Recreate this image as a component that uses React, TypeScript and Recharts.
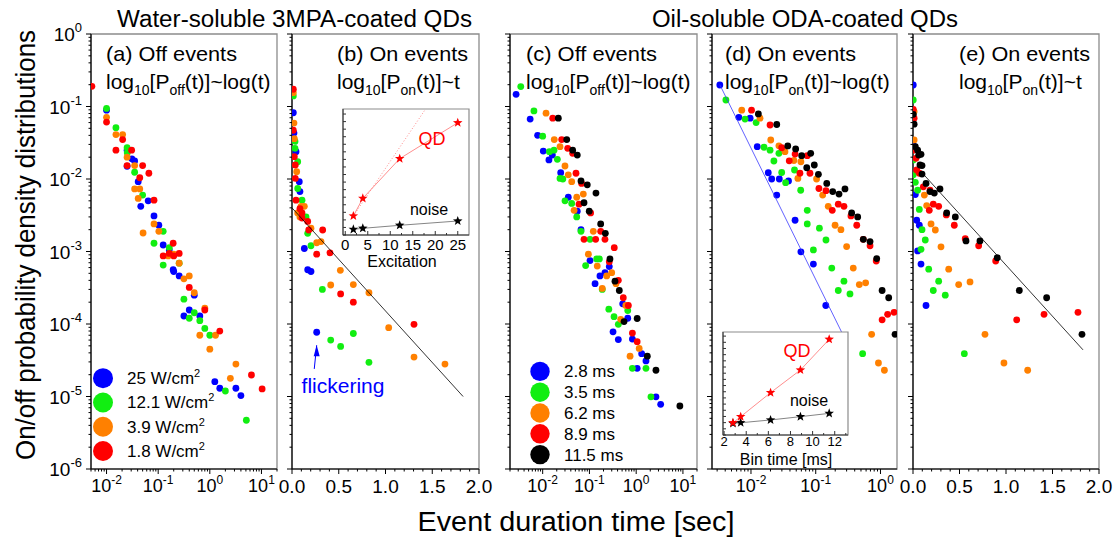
import React from 'react';
import { ScatterChart, Scatter, XAxis, YAxis, ReferenceArea, Legend } from 'recharts';

const W = 1119;
const H = 540;
const TOP = 34;
const BOTTOM = 469;
const AX_H = 30;
const AX_W = 40;
const FONT = '"Liberation Sans", Arial, sans-serif';

type XY = [number, number];

// (a) water-soluble, off events, by excitation power
const aBlue: XY[] = [[0.01, 0.089], [0.025, 0.025], [0.031, 0.019], [0.035, 0.0177], [0.025, 0.015], [0.041, 0.0092], [0.064, 0.005], [0.046, 0.0042], [0.083, 0.0031], [0.103, 0.0023], [0.125, 0.00123], [0.164, 0.00105], [0.195, 0.00056], [0.2, 0.00053], [0.255, 0.00046], [0.5, 0.00025], [0.315, 0.000129], [0.4, 0.000156], [0.64, 0.000129], [1.25, 1.6e-5], [1.56, 1.3e-5], [3.2, 1.3e-5], [4.0, 1.03e-5]];
const aGreen: XY[] = [[0.01, 0.094], [0.0152, 0.051], [0.025, 0.027], [0.0252, 0.023], [0.035, 0.0124], [0.05, 0.006], [0.125, 0.0019], [0.083, 0.0013], [0.164, 0.00113], [0.255, 0.00069], [0.125, 0.00065], [0.315, 0.00022], [0.5, 0.000143], [0.4, 0.00012], [0.64, 0.000111], [0.8, 8.7e-5], [1.0, 7.0e-5], [2.0, 1.19e-5], [5.1, 4.7e-6]];
const aOrange: XY[] = [[0.01, 0.071], [0.0152, 0.041], [0.0205, 0.041], [0.025, 0.02], [0.035, 0.0153], [0.035, 0.0073], [0.044, 0.0073], [0.041, 0.0054], [0.083, 0.0024], [0.051, 0.0018], [0.103, 0.0019], [0.156, 0.00087], [0.2, 0.00092], [0.255, 0.00069], [0.315, 0.00042], [0.4, 0.00046], [0.5, 0.00027], [0.8, 0.000165], [0.64, 7.0e-5], [1.29, 7.0e-5], [1.0, 4.5e-5], [3.2, 2.8e-5], [2.5, 1.78e-5]];
const aRed: XY[] = [[0.0052, 0.19], [0.01, 0.061], [0.0205, 0.035], [0.0152, 0.025], [0.0306, 0.025], [0.025, 0.0153], [0.05, 0.0153], [0.066, 0.012], [0.044, 0.0104], [0.083, 0.0051], [0.195, 0.0013], [0.125, 0.00087], [0.164, 0.00094], [0.2, 0.00087], [0.255, 0.00094], [0.4, 0.00032], [0.8, 0.000156], [1.56, 8.0e-5], [6.4, 1.98e-5], [10.3, 1.27e-5]];

// (b) water-soluble, on events
const bBlue: XY[] = [[0.014, 0.082], [0.021, 0.043], [0.043, 0.0238], [0.078, 0.0092], [0.085, 0.0067], [0.132, 0.0011], [0.168, 0.00056], [0.203, 0.00053], [0.264, 7.7e-5]];
const bGreen: XY[] = [[0.014, 0.14], [0.032, 0.033], [0.032, 0.0265], [0.061, 0.0173], [0.061, 0.0074], [0.107, 0.0051], [0.15, 0.003], [0.168, 0.00178], [0.203, 0.0012], [0.325, 0.0003], [0.414, 6.0e-5], [0.52, 4.9e-5], [0.656, 7.4e-5], [0.823, 2.96e-5]];
const bOrange: XY[] = [[0.014, 0.155], [0.021, 0.059], [0.025, 0.036], [0.05, 0.0126], [0.096, 0.0042], [0.132, 0.0042], [0.061, 0.0034], [0.085, 0.003], [0.203, 0.0021], [0.264, 0.00132], [0.31, 0.00137], [0.517, 0.00055], [0.414, 0.000345], [0.656, 0.00035], [0.823, 0.00027], [1.034, 8.9e-5], [1.305, 3.5e-5], [1.636, 2.8e-5]];
const bRed: XY[] = [[0.014, 0.173], [0.014, 0.047], [0.025, 0.0203], [0.035, 0.0156], [0.035, 0.0102], [0.043, 0.0051], [0.085, 0.0039], [0.107, 0.0034], [0.107, 0.0029], [0.168, 0.0026], [0.179, 0.00198], [0.328, 0.00198], [0.264, 0.00092], [0.406, 0.00096], [0.52, 0.00026], [0.656, 0.0002], [1.305, 9.9e-5]];
const bFit: XY[] = [[0, 0.004], [1.83, 1e-5]];
const flickerArrow: XY[] = [[0.238, 2.4e-5], [0.264, 5.1e-5]];

// (c) oil-soluble, off events, by bin time
const cBlue: XY[] = [[0.0027, 0.147], [0.0054, 0.067], [0.0078, 0.04], [0.0103, 0.0243], [0.0161, 0.0214], [0.0136, 0.0183], [0.0243, 0.0122], [0.0353, 0.0056], [0.055, 0.0036], [0.066, 0.002], [0.103, 0.00075], [0.266, 0.00062], [0.215, 0.00051], [0.168, 0.00046], [0.132, 0.00036], [0.515, 0.00019], [0.66, 0.00012], [0.32, 7.8e-5], [0.415, 6.1e-5], [0.83, 6.2e-5], [1.31, 3.9e-5], [1.62, 3.1e-5], [1.05, 2.45e-5], [2.65, 9.9e-6], [3.34, 7.8e-6]];
const cGreen: XY[] = [[0.0034, 0.188], [0.0065, 0.087], [0.01, 0.039], [0.0139, 0.0238], [0.0175, 0.025], [0.0206, 0.0187], [0.0235, 0.0102], [0.027, 0.01], [0.03, 0.005], [0.0418, 0.0046], [0.0535, 0.003], [0.066, 0.0019], [0.103, 0.00147], [0.143, 0.00079], [0.163, 0.00079], [0.083, 0.00064], [0.188, 0.0003], [0.26, 0.00016], [0.66, 0.000153], [0.336, 0.000126], [0.415, 9.9e-5], [0.83, 2.45e-5], [1.62, 2.45e-5], [2.07, 9.9e-6]];
const cOrange: XY[] = [[0.0118, 0.081], [0.0177, 0.035], [0.0235, 0.0279], [0.03, 0.0151], [0.0353, 0.0114], [0.0418, 0.0092], [0.074, 0.0062], [0.0535, 0.0056], [0.047, 0.0037], [0.121, 0.0019], [0.095, 0.00092], [0.147, 0.00063], [0.234, 0.00046], [0.3, 0.00051], [0.37, 0.00036], [0.188, 0.00031], [0.6, 0.00018], [0.467, 0.000116], [1.16, 4.6e-5], [0.74, 3.6e-5]];
const cRed: XY[] = [[0.0164, 0.069], [0.0255, 0.035], [0.0343, 0.0265], [0.0438, 0.0226], [0.0516, 0.012], [0.068, 0.0087], [0.06, 0.0045], [0.106, 0.0034], [0.174, 0.0019], [0.0766, 0.00147], [0.136, 0.00147], [0.215, 0.00147], [0.34, 0.00113], [0.266, 0.00072], [0.415, 0.0004], [0.53, 0.00023], [0.68, 0.00018], [0.83, 7.5e-5], [1.05, 5.7e-5]];
const cBlack: XY[] = [[0.0216, 0.069], [0.0327, 0.035], [0.0438, 0.025], [0.055, 0.0214], [0.066, 0.0094], [0.09, 0.0083], [0.138, 0.0064], [0.0766, 0.0047], [0.099, 0.0036], [0.174, 0.0024], [0.219, 0.00178], [0.275, 0.00079], [0.352, 0.00039], [0.436, 0.00029], [0.55, 0.000108], [1.05, 0.000119], [1.73, 3.6e-5], [2.65, 2.3e-5], [8.6, 7.4e-6]];

// (d) oil-soluble, on events, log-log
const dBlue: XY[] = [[0.0033, 0.198], [0.0065, 0.071], [0.0097, 0.069], [0.0125, 0.0279], [0.0185, 0.0122], [0.0209, 0.01], [0.0274, 0.01], [0.025, 0.006], [0.038, 0.0094], [0.048, 0.0027], [0.059, 0.00099], [0.092, 0.00067], [0.143, 0.00018]];
const dGreen: XY[] = [[0.0041, 0.123], [0.0081, 0.067], [0.012, 0.06], [0.0159, 0.0274], [0.0197, 0.025], [0.027, 0.0226], [0.0226, 0.0177], [0.0298, 0.0123], [0.047, 0.0133], [0.0343, 0.0089], [0.0586, 0.007], [0.074, 0.0037], [0.074, 0.0024], [0.114, 0.0021], [0.144, 0.00144], [0.092, 0.00105], [0.177, 0.00059], [0.273, 0.00039], [0.223, 0.00029], [0.338, 0.00026], [0.53, 3.9e-5]];
const dOrange: XY[] = [[0.0072, 0.089], [0.0138, 0.069], [0.0202, 0.0345], [0.027, 0.0287], [0.0335, 0.0238], [0.046, 0.018], [0.059, 0.0173], [0.053, 0.0102], [0.103, 0.01], [0.128, 0.006], [0.156, 0.0042], [0.199, 0.0023], [0.245, 0.002], [0.3, 0.00117], [0.38, 0.00059], [0.471, 0.00035], [0.59, 0.00037], [0.73, 7.2e-5], [0.93, 2.9e-5], [1.15, 2.3e-5]];
const dRed: XY[] = [[0.0102, 0.089], [0.0197, 0.0556], [0.0298, 0.027], [0.048, 0.0221], [0.074, 0.021], [0.039, 0.0178], [0.057, 0.012], [0.0815, 0.012], [0.112, 0.0074], [0.144, 0.0069], [0.223, 0.0045], [0.273, 0.0042], [0.18, 0.0037], [0.35, 0.0031], [0.43, 0.0023], [0.543, 0.00147], [0.69, 0.0012], [0.86, 0.00074], [1.06, 0.000114], [1.29, 0.000136], [1.62, 0.000145]];
const dBlack: XY[] = [[0.013, 0.079], [0.025, 0.0565], [0.037, 0.0286], [0.049, 0.026], [0.0607, 0.021], [0.0836, 0.0226], [0.0727, 0.0143], [0.095, 0.0156], [0.11, 0.0116], [0.148, 0.0087], [0.183, 0.0067], [0.229, 0.0062], [0.283, 0.0073], [0.359, 0.0034], [0.445, 0.003], [0.543, 0.00147], [0.69, 0.00137], [0.875, 0.0008], [1.06, 0.00029], [1.34, 0.00023], [1.68, 7.2e-5]];
const dFit: XY[] = [[0.0033, 0.2], [0.3, 5.6e-5]];

// (e) oil-soluble, on events, log-linear
const eBlue: XY[] = [[0.003, 0.198], [0.003, 0.0294], [0.025, 0.0061], [0.04, 0.0027], [0.068, 0.0023], [0.05, 0.00102], [0.086, 0.00067], [0.14, 0.00018]];
const eGreen: XY[] = [[0.003, 0.123], [0.003, 0.0183], [0.003, 0.0114], [0.025, 0.009], [0.05, 0.007], [0.068, 0.0038], [0.097, 0.002], [0.132, 0.00144], [0.086, 0.00107], [0.169, 0.00057], [0.276, 0.00039], [0.218, 0.00029], [0.347, 0.00025], [0.552, 3.9e-5]];
const eOrange: XY[] = [[0.012, 0.085], [0.012, 0.0345], [0.122, 0.006], [0.147, 0.0043], [0.194, 0.0024], [0.24, 0.00198], [0.301, 0.00116], [0.384, 0.00057], [0.491, 0.00035], [0.613, 0.00038], [0.774, 7.2e-5], [0.978, 2.9e-5], [1.233, 2.3e-5]];
const eRed: XY[] = [[0.003, 0.091], [0.012, 0.069], [0.003, 0.025], [0.032, 0.0193], [0.04, 0.0133], [0.068, 0.012], [0.111, 0.0078], [0.183, 0.007], [0.218, 0.0045], [0.276, 0.0042], [0.175, 0.0037], [0.358, 0.0032], [0.444, 0.0023], [0.562, 0.0015], [0.706, 0.0012], [0.889, 0.00074], [1.115, 0.000114], [1.409, 0.000136], [1.774, 0.000145]];
const eBlack: XY[] = [[0.003, 0.078], [0.012, 0.057], [0.025, 0.0279], [0.05, 0.025], [0.061, 0.0214], [0.086, 0.0219], [0.075, 0.0156], [0.097, 0.0153], [0.097, 0.0117], [0.14, 0.0087], [0.183, 0.0067], [0.229, 0.0064], [0.29, 0.0073], [0.362, 0.0034], [0.455, 0.003], [0.57, 0.0014], [0.72, 0.0014], [0.906, 0.00082], [1.143, 0.00029], [1.437, 0.00023], [1.817, 7.2e-5]];
const eFit: XY[] = [[0.1, 0.0121], [1.828, 4.4e-5]];

// insets
const excitation = [1.8, 3.9, 12.1, 25];
const excQD = [1.51, 2.91, 6.06, 8.91];
const excNoise = [0.45, 0.53, 0.77, 1.11];
const excTrend: XY[] = [[1.8, 1.51], [17.7, 9.92]];
const binTimes = [2.8, 3.5, 6.2, 8.9, 11.5];
const binQD = [1.19, 1.78, 4.11, 6.31, 9.29];
const binNoise = [1.13, 1.19, 1.46, 1.78, 2.1];

const powerNames = ['25 W/cm^2', '12.1 W/cm^2', '3.9 W/cm^2', '1.8 W/cm^2'];
const binNames = ['2.8 ms', '3.5 ms', '6.2 ms', '8.9 ms', '11.5 ms'];
const colors = ['#0000ff', '#11ee11', '#ff8000', '#ff0000', '#000000'];

const panelTags = ['(a) Off events', '(b) On events', '(c) Off events', '(d) On events', '(e) On events'];
const panelSubs = ['off', 'on', 'off', 'on', 'on'];
const panelRhs = ['log(t)', 't', 'log(t)', 'log(t)', 't'];
const linMajor = [0, 0.5, 1, 1.5, 2];

const toPts = (a: XY[]) => a.map(([t, p]) => ({ t, p }));
const toXY = (xs: number[], ys: number[]) => xs.map((x, i) => ({ x, y: ys[i] }));

function logTicks(min: number, max: number) {
  const out: number[] = [];
  for (let k = Math.floor(Math.log10(min)); k <= Math.ceil(Math.log10(max)); k++) {
    for (let m = 1; m <= 9; m++) {
      const v = m * Math.pow(10, k);
      if (v >= min * 0.999999 && v <= max * 1.000001) out.push(v);
    }
  }
  return out;
}
const isDecade = (v: number) => {
  const e = Math.log10(v);
  return Math.abs(e - Math.round(e)) < 1e-6;
};
const yTicks = logTicks(1e-6, 1);
const linTicks = Array.from({ length: 21 }, (_, i) => i / 10);

function XTick(props: any) {
  const { x, y, payload, log } = props;
  const v = payload.value as number;
  const major = log ? isDecade(v) : linMajor.some((m) => Math.abs(m - v) < 1e-6);
  let label: React.ReactNode = null;
  if (major && log) {
    label = (
      <text x={x} y={y + 23} textAnchor="middle" fontSize={18} fill="#000" fontFamily={FONT}>
        <tspan>10</tspan>
        <tspan dy={-8} fontSize={12}>{Math.round(Math.log10(v))}</tspan>
      </text>
    );
  } else if (major) {
    label = (
      <text x={x} y={y + 24} textAnchor="middle" fontSize={19} fill="#000" fontFamily={FONT}>
        {v.toFixed(1)}
      </text>
    );
  }
  return (
    <g>
      <line x1={x} x2={x} y1={y} y2={y + (major ? 5 : 2.5)} stroke="#000" />
      {label}
    </g>
  );
}

function YTick(props: any) {
  const { x, y, payload, labels } = props;
  const v = payload.value as number;
  const major = isDecade(v);
  return (
    <g>
      <line x1={x} x2={x - (major ? 5 : 2.5)} y1={y} y2={y} stroke="#000" />
      {major && labels && (
        <text x={x - 9} y={y + 7} textAnchor="end" fontSize={19} fill="#000" fontFamily={FONT}>
          <tspan>10</tspan>
          <tspan dy={-9} fontSize={13}>{Math.round(Math.log10(v))}</tspan>
        </text>
      )}
    </g>
  );
}

const dot = (color: string) => (p: any) => <circle cx={p.cx} cy={p.cy} r={3.4} fill={color} />;
const noShape = () => <g />;

function starPath(cx: number, cy: number, R: number, r: number) {
  const pts: string[] = [];
  for (let i = 0; i < 10; i++) {
    const a = -Math.PI / 2 + (i * Math.PI) / 5;
    const rad = i % 2 === 0 ? R : r;
    pts.push(`${cx + rad * Math.cos(a)},${cy + rad * Math.sin(a)}`);
  }
  return pts.join(' ');
}
const star = (color: string) => (p: any) => <polygon points={starPath(p.cx, p.cy, 5, 2.1)} fill={color} />;

function arrowHead(p: any) {
  if (!p.payload?.head) return <g />;
  const { cx, cy } = p;
  return <polygon points={`${cx},${cy} ${cx - 3},${cy + 11} ${cx + 3},${cy + 11}`} fill="#0000ff" />;
}

function LegendBox({ payload, rowH, r, order }: any) {
  const items = (payload || [])
    .filter((it: any) => it.type !== 'none')
    .slice()
    .sort((a: any, b: any) => order.indexOf(a.value) - order.indexOf(b.value));
  return (
    <svg width={190} height={items.length * rowH + 4} style={{ overflow: 'visible', display: 'block' }}>
      {items.map((it: any, i: number) => {
        const [base, sup] = String(it.value).split('^');
        const cy = rowH / 2 + i * rowH;
        return (
          <g key={i}>
            <circle cx={11} cy={cy} r={r} fill={it.color} />
            <text x={35} y={cy + 6} fontSize={17} fontFamily={FONT} fill="#000">
              {base}
              {sup && (
                <tspan dy={-7} fontSize={11}>
                  {sup}
                </tspan>
              )}
            </text>
          </g>
        );
      })}
    </svg>
  );
}

interface PanelProps {
  left: number;
  right: number;
  log: boolean;
  domain: [number, number];
  ticks: number[];
  series: XY[][];
  names: string[];
  yLabels?: boolean;
  fits?: { pts: XY[]; color: string }[];
  arrow?: XY[];
  legend?: { left: number; top: number; rowH: number; r: number };
}

function Panel({ left, right, log, domain, ticks, series, names, yLabels, fits, arrow, legend }: PanelProps) {
  return (
    <div style={{ position: 'absolute', left: 0, top: 0 }}>
      <ScatterChart width={W} height={H} margin={{ top: TOP, bottom: H - BOTTOM - AX_H, left: left - AX_W, right: W - right }}>
        <ReferenceArea x1={domain[0]} x2={domain[1]} y1={1e-6} y2={1} fill="none" stroke="#8c8c8c" strokeWidth={1.3} />
        <XAxis
          dataKey="t"
          type="number"
          scale={log ? 'log' : 'linear'}
          domain={domain}
          allowDataOverflow
          ticks={ticks}
          interval={0}
          height={AX_H}
          tickSize={0}
          tickMargin={0}
          tickLine={false}
          axisLine={{ stroke: '#000', strokeWidth: 1.2 }}
          tick={(p: any) => <XTick {...p} log={log} />}
        />
        <YAxis
          dataKey="p"
          type="number"
          scale="log"
          domain={[1e-6, 1]}
          allowDataOverflow
          ticks={yTicks}
          interval={0}
          width={AX_W}
          tickSize={0}
          tickMargin={0}
          tickLine={false}
          axisLine={{ stroke: '#000', strokeWidth: 1.2 }}
          tick={(p: any) => <YTick {...p} labels={!!yLabels} />}
        />
        {series.map((s, i) => (
          <Scatter key={i} name={names[i]} data={toPts(s)} fill={colors[i]} shape={dot(colors[i])} isAnimationActive={false} />
        ))}
        {(fits || []).map((f, i) => (
          <Scatter
            key={`f${i}`}
            data={toPts(f.pts)}
            line={{ stroke: f.color, strokeWidth: 0.8 }}
            shape={noShape}
            legendType="none"
            isAnimationActive={false}
          />
        ))}
        {arrow && (
          <Scatter
            data={toPts(arrow).map((d, i) => ({ ...d, head: i === arrow.length - 1 }))}
            line={{ stroke: '#0000ff', strokeWidth: 1 }}
            shape={arrowHead}
            legendType="none"
            isAnimationActive={false}
          />
        )}
        {legend && (
          <Legend
            layout="vertical"
            align="center"
            verticalAlign="middle"
            wrapperStyle={{ position: 'absolute', left: legend.left, top: legend.top, width: 190 }}
            content={(p: any) => <LegendBox payload={p.payload} rowH={legend.rowH} r={legend.r} order={names} />}
          />
        )}
      </ScatterChart>
    </div>
  );
}

interface InsetProps {
  box: [number, number, number, number];
  domain: [number, number];
  ticks: number[];
  labelled: number[];
  labelSize: number;
  labelDy: number;
  xs: number[];
  qd: number[];
  noise: number[];
  trend?: XY[];
}

function Inset({ box, domain, ticks, labelled, labelSize, labelDy, xs, qd, noise, trend }: InsetProps) {
  const insetY = Array.from({ length: 17 }, (_, i) => i * 0.6);
  return (
    <div style={{ position: 'absolute', left: 0, top: 0 }}>
      <ScatterChart width={W} height={H} margin={{ left: box[0] - AX_W, top: box[1], right: W - box[2], bottom: H - box[3] - AX_H }}>
        <ReferenceArea x1={domain[0]} x2={domain[1]} y1={0} y2={10} fill="#ffffff" fillOpacity={1} stroke="#8c8c8c" strokeWidth={1.2} />
        <XAxis
          dataKey="x"
          type="number"
          domain={domain}
          allowDataOverflow
          ticks={ticks}
          interval={0}
          height={AX_H}
          tickSize={0}
          tickMargin={0}
          tickLine={false}
          axisLine={{ stroke: '#333' }}
          tick={(p: any) => {
            const v = p.payload.value as number;
            const major = labelled.includes(v);
            return (
              <g>
                <line x1={p.x} x2={p.x} y1={p.y} y2={p.y - (major ? 4 : 2)} stroke="#333" />
                {major && (
                  <text x={p.x} y={p.y + labelDy} textAnchor="middle" fontSize={labelSize} fill="#000" fontFamily={FONT}>
                    {v}
                  </text>
                )}
              </g>
            );
          }}
        />
        <YAxis
          dataKey="y"
          type="number"
          domain={[0, 10]}
          allowDataOverflow
          ticks={insetY}
          interval={0}
          width={AX_W}
          tickSize={0}
          tickMargin={0}
          tickLine={false}
          axisLine={{ stroke: '#333' }}
          tick={(p: any) => <line x1={p.x} x2={p.x + 3} y1={p.y} y2={p.y} stroke="#333" />}
        />
        {trend && (
          <Scatter
            data={trend.map(([x, y]) => ({ x, y }))}
            line={{ stroke: '#ff8080', strokeWidth: 0.9, strokeDasharray: '1 2' }}
            shape={noShape}
            isAnimationActive={false}
          />
        )}
        <Scatter data={toXY(xs, noise)} line={{ stroke: '#666', strokeWidth: 0.8 }} shape={star('#000000')} isAnimationActive={false} />
        <Scatter data={toXY(xs, qd)} line={{ stroke: '#ff7070', strokeWidth: 0.8 }} shape={star('#ff0000')} isAnimationActive={false} />
      </ScatterChart>
    </div>
  );
}

function Formula({ x, sub, rhs }: { x: number; sub: string; rhs: string }) {
  return (
    <text x={x} y={89} fontSize={21} fill="#000">
      log
      <tspan fontSize={14} dy={6}>10</tspan>
      <tspan dy={-6}>[P</tspan>
      <tspan fontSize={14} dy={6}>{sub}</tspan>
      <tspan dy={-6}>{`(t)]~${rhs}`}</tspan>
    </text>
  );
}

export default function App() {
  const tagX = [106, 337, 526, 725, 959];
  return (
    <div style={{ position: 'absolute', left: 0, top: 0, width: W, height: H, background: '#fff', fontFamily: FONT }}>
      <Panel left={91} right={277} log domain={[0.005, 20]} ticks={logTicks(0.005, 20)} series={[aBlue, aGreen, aOrange, aRed]} names={powerNames} yLabels legend={{ left: 92, top: 366, rowH: 24.3, r: 10 }} />
      <Panel left={292} right={479} log={false} domain={[0, 2]} ticks={linTicks} series={[bBlue, bGreen, bOrange, bRed]} names={powerNames} fits={[{ pts: bFit, color: '#000' }]} arrow={flickerArrow} />
      <Panel left={510} right={697} log domain={[0.002, 20]} ticks={logTicks(0.002, 20)} series={[cBlue, cGreen, cOrange, cRed, cBlack]} names={binNames} legend={{ left: 529, top: 361, rowH: 20.8, r: 9.7 }} />
      <Panel left={712} right={897} log domain={[0.0025, 1.8]} ticks={logTicks(0.0025, 1.8)} series={[dBlue, dGreen, dOrange, dRed, dBlack]} names={binNames} fits={[{ pts: dFit, color: '#3a3aff' }]} />
      <Panel left={913} right={1099} log={false} domain={[0, 2]} ticks={linTicks} series={[eBlue, eGreen, eOrange, eRed, eBlack]} names={binNames} fits={[{ pts: eFit, color: '#000' }]} />
      <Inset box={[343, 109, 469, 235]} domain={[-0.5, 27.5]} ticks={[0, 2.5, 5, 7.5, 10, 12.5, 15, 17.5, 20, 22.5, 25]} labelled={[0, 5, 10, 15, 20, 25]} labelSize={15} labelDy={15} xs={excitation} qd={excQD} noise={excNoise} trend={excTrend} />
      <Inset box={[723, 332, 848, 435]} domain={[1.9, 13.2]} ticks={[2, 3, 4, 5, 6, 7, 8, 9, 10, 11, 12, 13]} labelled={[2, 4, 6, 8, 10, 12]} labelSize={13} labelDy={11} xs={binTimes} qd={binQD} noise={binNoise} />
      <svg width={W} height={H} style={{ position: 'absolute', left: 0, top: 0, pointerEvents: 'none' }} fontFamily={FONT}>
        <text x={117} y={27} fontSize={23} textLength={355} lengthAdjust="spacingAndGlyphs" fill="#000">Water-soluble 3MPA-coated QDs</text>
        <text x={652} y={27} fontSize={23} textLength={306} lengthAdjust="spacingAndGlyphs" fill="#000">Oil-soluble ODA-coated QDs</text>
        {panelTags.map((t, i) => (
          <text key={t + i} x={tagX[i]} y={61} fontSize={21} textLength={131} lengthAdjust="spacingAndGlyphs" fill="#000">{t}</text>
        ))}
        {panelSubs.map((s, i) => (
          <Formula key={i} x={tagX[i]} sub={s} rhs={panelRhs[i]} />
        ))}
        <text transform="translate(35,245) rotate(-90)" textAnchor="middle" fontSize={27} textLength={430} lengthAdjust="spacingAndGlyphs" fill="#000">On/off probability density distributions</text>
        <text x={576} y={531} textAnchor="middle" fontSize={27} textLength={317} lengthAdjust="spacingAndGlyphs" fill="#000">Event duration time [sec]</text>
        <text x={343} y={393} textAnchor="middle" fontSize={21} fill="#0000ff">flickering</text>
        <text x={432} y={145} textAnchor="middle" fontSize={18} fill="#ff0000">QD</text>
        <text x={429} y={215} textAnchor="middle" fontSize={16} fill="#000">noise</text>
        <text x={402} y={267} textAnchor="middle" fontSize={16} fill="#000">Excitation</text>
        <text x={797} y={357} textAnchor="middle" fontSize={18} fill="#ff0000">QD</text>
        <text x={809} y={406} textAnchor="middle" fontSize={16} fill="#000">noise</text>
        <text x={786} y={465} textAnchor="middle" fontSize={16} fill="#000">Bin time [ms]</text>
      </svg>
    </div>
  );
}
